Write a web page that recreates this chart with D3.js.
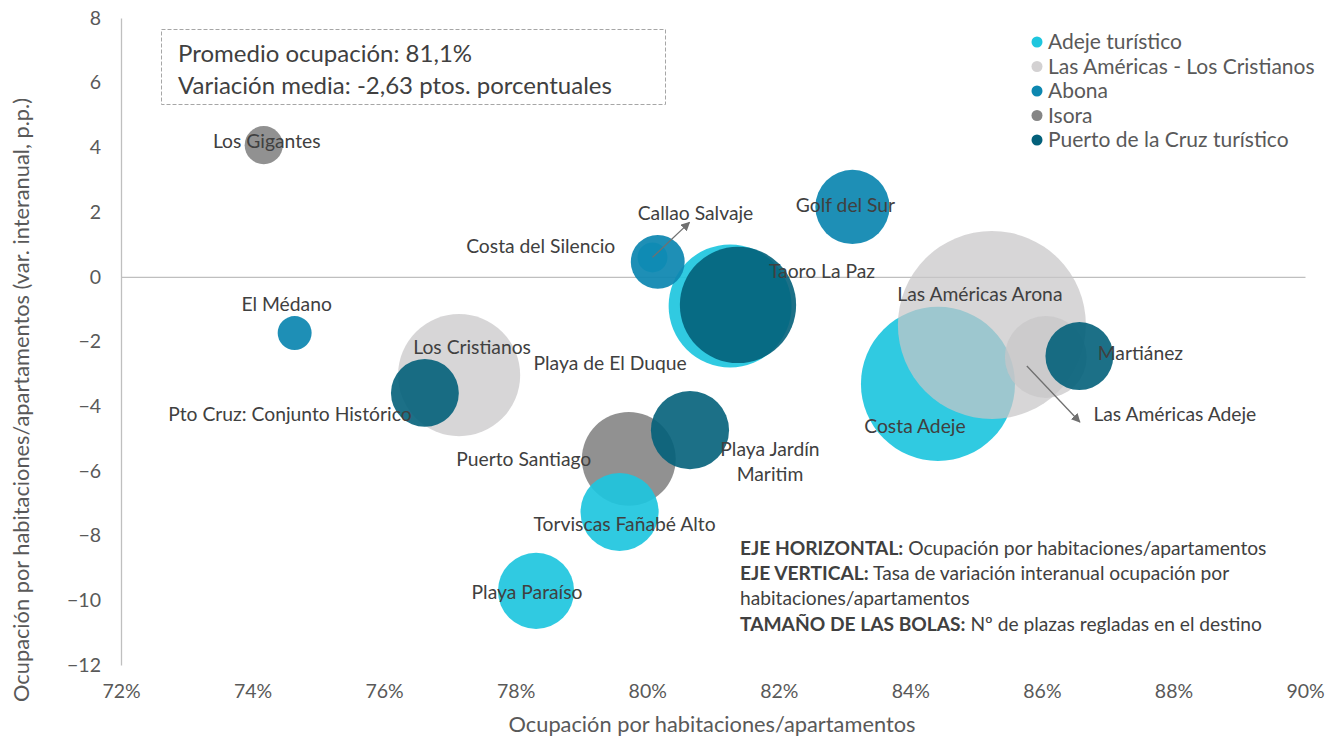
<!DOCTYPE html>
<html><head><meta charset="utf-8">
<script src="https://cdn.jsdelivr.net/npm/d3@7"></script>
<style>
body{margin:0;background:#fff;}
svg{display:block;font-family:Lato, "Open Sans", sans-serif;}
</style></head>
<body><svg id="c" width="1334" height="738"></svg>
<script>
// ---------- DATA ----------
const seriesNames = ["Adeje turístico","Las Américas - Los Cristianos","Abona","Isora","Puerto de la Cruz turístico"];
const destinos = ["Callao Salvaje","Playa de El Duque","Costa Adeje","Torviscas Fañabé Alto","Playa Paraíso",
  "Las Américas Arona","Los Cristianos","Las Américas Adeje",
  "Costa del Silencio","Golf del Sur","El Médano",
  "Los Gigantes","Puerto Santiago",
  "Taoro La Paz","Pto Cruz: Conjunto Histórico","Playa Jardín Maritim","Martiánez"];
const serie = ["Adeje turístico","Adeje turístico","Adeje turístico","Adeje turístico","Adeje turístico",
  "Las Américas - Los Cristianos","Las Américas - Los Cristianos","Las Américas - Los Cristianos",
  "Abona","Abona","Abona",
  "Isora","Isora",
  "Puerto de la Cruz turístico","Puerto de la Cruz turístico","Puerto de la Cruz turístico","Puerto de la Cruz turístico"];
const ocupacion = [0.8008,0.8126,0.8442,0.7958,0.7831, 0.8524,0.7714,0.8606, 0.8016,0.8312,0.7464, 0.7417,0.7972, 0.8138,0.7662,0.8065,0.8657];
const variacion = [0.60,-0.90,-3.31,-7.27,-9.71, -1.49,-3.04,-2.48, 0.46,2.16,-1.74, 4.07,-5.63, -0.87,-3.59,-4.74,-2.45];
const plazas = [900,15100,23700,6100,5800, 35300,14900,6700, 2900,5500,1150, 1450,8800, 13500,4600,6100,4600];
const xTicks = [0.72,0.74,0.76,0.78,0.80,0.82,0.84,0.86,0.88,0.90];
const yTicks = [8,6,4,2,0,-2,-4,-6,-8,-10,-12];
const infoLines = ["Promedio ocupación: 81,1%","Variación media: -2,63 ptos. porcentuales"];
const notes = [["EJE HORIZONTAL:"," Ocupación por habitaciones/apartamentos"],
  ["EJE VERTICAL:"," Tasa de variación interanual ocupación por"],
  [""," habitaciones/apartamentos"],
  ["TAMAÑO DE LAS BOLAS:"," Nº de plazas regladas en el destino"]];

// ---------- STYLE / LAYOUT ----------
const colors = {"Adeje turístico":"#1ec6de","Las Américas - Los Cristianos":"#c8c6c7","Abona":"#0d87b0","Isora":"#858585","Puerto de la Cruz turístico":"#03607a"};
const opac = {"Adeje turístico":0.92,"Las Américas - Los Cristianos":0.72,"Abona":0.93,"Isora":0.9,"Puerto de la Cruz turístico":0.9};
const drawOrder = ["Isora","Adeje turístico","Las Américas - Los Cristianos","Abona","Puerto de la Cruz turístico"];
// label offsets (px) relative to bubble centre
const labelLayout = {
  "Callao Salvaje":[43,-44,[0,0,37,-35]],
  "Playa de El Duque":[-120,57],
  "Costa Adeje":[-23,42],
  "Torviscas Fañabé Alto":[5,12],
  "Playa Paraíso":[-9,1],
  "Las Américas Arona":[-12,-31],
  "Los Cristianos":[13,-28],
  "Las Américas Adeje":[129,57,[-19,9,34,65]],
  "Costa del Silencio":[-117,-16],
  "Golf del Sur":[-7,-2],
  "El Médano":[-8,-29],
  "Los Gigantes":[3,-4],
  "Puerto Santiago":[-105,0],
  "Taoro La Paz":[84,-34],
  "Pto Cruz: Conjunto Histórico":[-135,21],
  "Playa Jardín Maritim":[80,19],
  "Martiánez":[61,-3]
};

const svg = d3.select("#c");
const x = d3.scaleLinear().domain([0.72,0.90]).range([121,1305]);
const y = d3.scaleLinear().domain([-12,8]).range([665,18]);
const r = d3.scaleSqrt().domain([0,35300]).range([0,94]);

const data = destinos.map((n,i)=>({name:n,serie:serie[i],x:ocupacion[i],y:variacion[i],p:plazas[i]}));

// axes
const yAxis = svg.append("g").attr("transform","translate("+x(0.72)+",0)")
  .call(d3.axisLeft(y).tickValues(yTicks).tickSize(0).tickPadding(20).tickFormat(d3.format("d")));
yAxis.select(".domain").attr("stroke","#bfbfbf").attr("stroke-width",1.3);
yAxis.selectAll("text").attr("font-size",19.5).attr("fill","#595959").attr("font-family","Lato");

const xAxis = svg.append("g").attr("transform","translate(0,"+y(0)+")")
  .call(d3.axisBottom(x).tickValues(xTicks).tickSize(0).tickFormat(d3.format(".0%")));
xAxis.select(".domain").attr("stroke","#bfbfbf").attr("stroke-width",1.3);
xAxis.selectAll("text").attr("font-size",19.5).attr("fill","#595959").attr("font-family","Lato")
  .attr("y", 0).attr("dy","0.35em").attr("transform","translate(0,"+(691-y(0))+")");

// axis titles
svg.append("text").attr("x",712).attr("y",724).attr("dy","0.35em").attr("text-anchor","middle")
  .attr("font-size",21.8).attr("fill","#595959").text("Ocupación por habitaciones/apartamentos");
svg.append("text").attr("transform","translate(21,400) rotate(-90)").attr("dy","0.35em").attr("text-anchor","middle")
  .attr("font-size",21.8).attr("fill","#595959").text("Ocupación por habitaciones/apartamentos (var. interanual, p.p.)");

// bubbles
const sorted = data.slice().sort((a,b)=>drawOrder.indexOf(a.serie)-drawOrder.indexOf(b.serie));
svg.append("g").selectAll("circle").data(sorted).join("circle")
  .attr("cx",d=>x(d.x)).attr("cy",d=>y(d.y)).attr("r",d=>r(d.p))
  .attr("fill",d=>colors[d.serie]).attr("fill-opacity",d=>opac[d.serie]);

// arrows
const defs = svg.append("defs");
defs.append("marker").attr("id","ah").attr("viewBox","0 0 10 10").attr("refX",9).attr("refY",5)
  .attr("markerWidth",7).attr("markerHeight",7).attr("orient","auto")
  .append("path").attr("d","M0,0 L10,5 L0,10 z").attr("fill","#707070");
data.forEach(d=>{
  const L = labelLayout[d.name];
  if(L && L[2]){
    const cx=x(d.x), cy=y(d.y);
    svg.append("line").attr("x1",cx+L[2][0]).attr("y1",cy+L[2][1]).attr("x2",cx+L[2][2]).attr("y2",cy+L[2][3])
      .attr("stroke","#707070").attr("stroke-width",1.3).attr("marker-end","url(#ah)");
  }
});

// labels
const lg = svg.append("g").attr("font-size",19.3).attr("fill","#404040").attr("text-anchor","middle");
data.forEach(d=>{
  const L = labelLayout[d.name];
  const cx=x(d.x)+L[0], cy=y(d.y)+L[1];
  if(d.name==="Playa Jardín Maritim"){
    const t = lg.append("text").attr("x",cx).attr("y",cy).attr("dy","0.35em");
    t.append("tspan").attr("x",cx).text("Playa Jardín");
    t.append("tspan").attr("x",cx).attr("dy",25).text("Maritim");
  } else {
    lg.append("text").attr("x",cx).attr("y",cy).attr("dy","0.35em").text(d.name);
  }
});

// info box
svg.append("rect").attr("x",161.5).attr("y",29.5).attr("width",504).attr("height",75)
  .attr("fill","none").attr("stroke","#a6a6a6").attr("stroke-dasharray","4,2").attr("stroke-width",1);
svg.append("g").selectAll("text").data(infoLines).join("text")
  .attr("x",178).attr("y",(d,i)=>54+i*32).attr("dy","0.35em").attr("font-size",24).attr("fill","#404040").text(d=>d);

// legend
const leg = svg.append("g").selectAll("g").data(seriesNames).join("g")
  .attr("transform",(d,i)=>"translate(1037,"+(42+i*24.5)+")");
leg.append("circle").attr("r",5.5).attr("fill",d=>colors[d]).attr("fill-opacity",d=>d==="Las Américas - Los Cristianos"?0.8:1);
leg.append("text").attr("x",11).attr("dy","0.35em").attr("font-size",21).attr("fill","#595959").text(d=>d);

// notes
const ng = svg.append("g").attr("font-size",19.2).attr("fill","#404040");
notes.forEach((n,i)=>{
  const t = ng.append("text").attr("x",740).attr("y",548+i*25.3).attr("dy","0.35em");
  if(n[0]) t.append("tspan").attr("font-weight","bold").text(n[0]);
  t.append("tspan").text(n[0]?n[1]:n[1].trim());
});
</script></body></html>
